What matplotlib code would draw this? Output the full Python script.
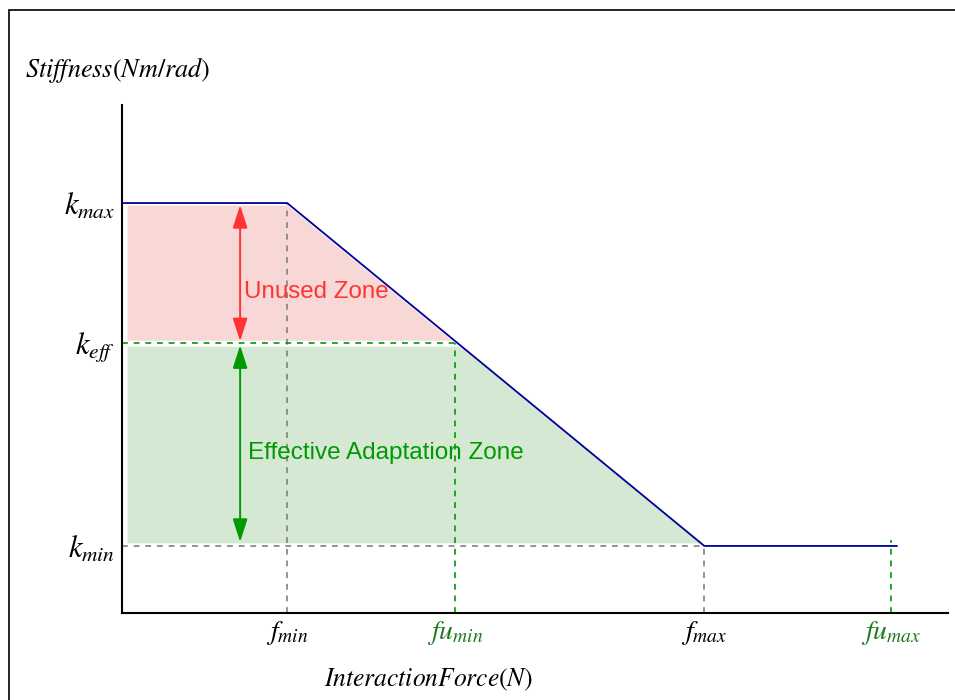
"""
Piecewise stiffness vs. interaction force schematic with unused / effective zones.
"""
import matplotlib.patches as mpatches
import matplotlib.pyplot as plt
import numpy as np

plt.rcParams.update({"mathtext.fontset": "stix", "font.family": "Liberation Sans"})

# key levels (arbitrary units, axes span 0..10)
K_MAX = 8.07
K_EFF = 5.31
K_MIN = 1.32
F_MIN = 2.0
FU_MIN = 4.03
F_MAX = 7.05
FU_MAX = 9.31
F_END = 9.38

# stiffness curve knots
curve_f = [0.0, F_MIN, F_MAX, F_END]
curve_k = [K_MAX, K_MAX, K_MIN, K_MIN]

y_ticks = [K_MAX, K_EFF, K_MIN]
y_labels = [r"$k_{max}$", r"$k_{eff}$", r"$k_{min}$"]
x_ticks = [F_MIN, FU_MIN, F_MAX, FU_MAX]
x_labels = [r"$f_{min}$", r"$fu_{min}$", r"$f_{max}$", r"$fu_{max}$"]
x_label_colors = ["black", "#1b7a1b", "black", "#1b7a1b"]

RED = "#ff3333"
GREEN = "#009900"
GRAY = "#808080"
BLUE = "#000099"

fig = plt.figure(figsize=(9.55, 7.0), dpi=100)
ax = fig.add_axes([122 / 955, 87 / 700, 826 / 955, 508 / 700])
ax.set_xlim(0, 10)
ax.set_ylim(0, 10)

# figure frame (open to the right / bottom like the cropped original)
fig.patches.append(mpatches.Rectangle(
    (9 / 955, -0.1), 1.2, 0.1 + 690 / 700,
    transform=fig.transFigure, fill=False, edgecolor="black", linewidth=1.2,
))

# zones
xs = np.linspace(0.06, F_MAX, 400)
ks = np.interp(xs, curve_f, curve_k)
ax.fill_between(xs, K_EFF + 0.06, ks - 0.04, where=ks > K_EFF + 0.06,
                color="#f8d7d7", linewidth=0, zorder=1)
ax.fill_between(xs, K_MIN + 0.06, np.minimum(ks, K_EFF - 0.06),
                where=ks > K_MIN + 0.06, color="#d5e8d4", linewidth=0, zorder=1)

# guide lines
dash = (0, (3.5, 3.5))
ax.plot([F_MIN, F_MIN], [0, K_MAX], ls=dash, color=GRAY, lw=1.2, zorder=2)
ax.plot([0, F_MAX], [K_MIN, K_MIN], ls=dash, color=GRAY, lw=1.2, zorder=2)
ax.plot([F_MAX, F_MAX], [0, K_MIN], ls=dash, color=GRAY, lw=1.2, zorder=2)
ax.plot([0, FU_MIN], [K_EFF, K_EFF], ls=dash, color=GREEN, lw=1.2, zorder=2)
ax.plot([FU_MIN, FU_MIN], [0, K_EFF], ls=dash, color=GREEN, lw=1.2, zorder=2)
ax.plot([FU_MAX, FU_MAX], [0, K_MIN + 0.12], ls=dash, color=GREEN, lw=1.2, zorder=2)

# stiffness curve
ax.plot(curve_f, curve_k, color=BLUE, lw=1.3, zorder=3)

# zone arrows and labels
arrow_x = 1.43
head = "<|-|>,head_length=1.4,head_width=0.45"
ax.annotate("", xy=(arrow_x, K_MAX - 0.04), xytext=(arrow_x, K_EFF + 0.04),
            arrowprops=dict(arrowstyle=head, color=RED, lw=1.4,
                            shrinkA=0, shrinkB=0), zorder=4)
ax.annotate("", xy=(arrow_x, K_EFF - 0.04), xytext=(arrow_x, K_MIN + 0.08),
            arrowprops=dict(arrowstyle=head, color=GREEN, lw=1.4,
                            shrinkA=0, shrinkB=0), zorder=4)
ax.text(arrow_x + 0.05, 6.32, "Unused Zone", color=RED, fontsize=17.4,
        ha="left", va="center", zorder=5)
ax.text(arrow_x + 0.1, 3.15, "Effective Adaptation Zone", color=GREEN,
        fontsize=17.5, ha="left", va="center", zorder=5)

# axes styling
for side in ("top", "right"):
    ax.spines[side].set_visible(False)
for side in ("left", "bottom"):
    ax.spines[side].set_linewidth(1.5)
ax.set_yticks(y_ticks, y_labels, fontsize=22)
ax.set_xticks(x_ticks, x_labels, fontsize=20)
for lbl, c in zip(ax.get_xticklabels(), x_label_colors):
    lbl.set_color(c)
ax.tick_params(axis="both", length=0)
ax.tick_params(axis="y", pad=5)
ax.tick_params(axis="x", pad=4)

fig.text(25 / 955, 1 - 70 / 700, r"$Stiffness(Nm/rad)$", fontsize=18.8,
         ha="left", va="center")
fig.text(429 / 955, 1 - 680 / 700, r"$InteractionForce(N)$", fontsize=18.4,
         ha="center", va="center")

fig.savefig("out.png", dpi=100)
